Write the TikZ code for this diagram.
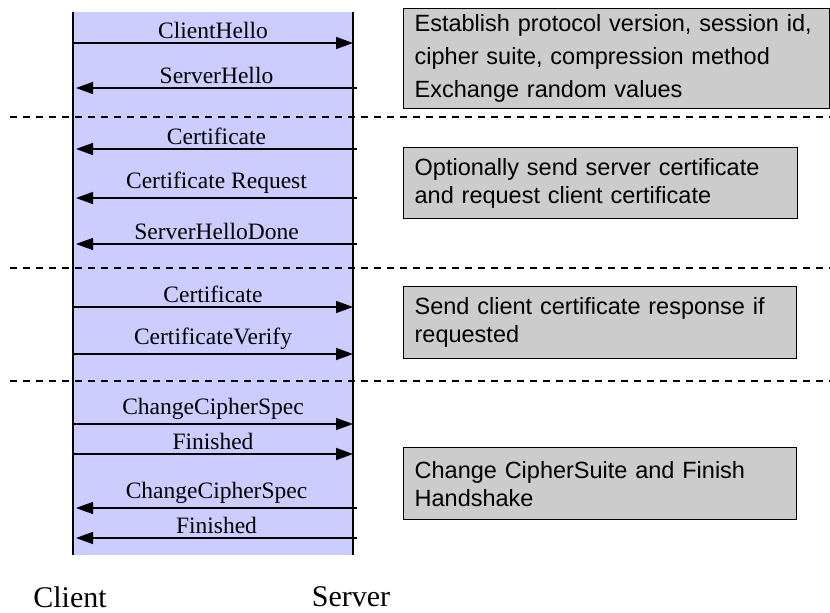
\documentclass[tikz,border=0pt]{standalone}
\usepackage{fontspec}
\setmainfont{Liberation Serif}
\setsansfont{Liberation Sans}
\usetikzlibrary{arrows.meta,positioning}

\definecolor{lifeblue}{HTML}{CCCCFF}
\definecolor{notegray}{HTML}{CCCCCC}

\begin{document}
\begin{tikzpicture}[x=1pt, y=-1pt, >={Triangle[length=17pt,width=12pt]},
    lifeline/.style={line width=2pt},
    msg/.style={->, line width=1.5pt},
    msglabel/.style={above=3pt, inner sep=1pt, font=\fontsize{23.5}{25}\selectfont},
    note/.style={draw, line width=1.3pt, fill=notegray, anchor=north west, align=left,
                 inner xsep=11pt, font=\sffamily\fontsize{23.5}{28}\selectfont},
    sep/.style={dashed, dash pattern=on 7pt off 6pt, line width=1.1pt},
    party/.style={font=\fontsize{30}{32}\selectfont}]

    \useasboundingbox (0,0) rectangle (830,613);

    % lifelines
    \fill[lifeblue] (73,12) rectangle (353,555);
    \coordinate (ctop) at (73,12);
    \coordinate (cbot) at (73,555);
    \coordinate (stop) at (353,12);
    \coordinate (sbot) at (353,555);
    \draw[lifeline] (ctop) -- (cbot);
    \draw[lifeline] (stop) -- (sbot);

    \node[party] (client) at (70,597)  {Client};
    \node[party] (server) at (351,597) {Server};

    % phase separators
    \foreach \y in {117,268,381}
        \draw[sep] (10,\y) -- (830,\y);

    % client -> server
    \foreach \y/\txt in {43/ClientHello, 307/Certificate, 354/CertificateVerify,
                         424/ChangeCipherSpec, 454/Finished} {
        \coordinate (c\y) at (ctop |- 0,\y);
        \coordinate (s\y) at (stop |- 0,\y);
        \draw[msg] (c\y) -- node[msglabel] {\txt} (s\y);
    }

    % server -> client
    \foreach \y/\txt in {88/ServerHello, 149/Certificate, 198/Certificate Request,
                         244/ServerHelloDone, 508/ChangeCipherSpec, 538/Finished} {
        \coordinate (c\y) at (76,\y);
        \coordinate (s\y) at (357,\y);
        \draw[msg] (s\y) -- node[msglabel] {\txt} (c\y);
    }

    % notes
    \node[note, text width=404pt, minimum height=100pt,
          font=\sffamily\fontsize{23.5}{33}\selectfont] (hello) at (403,8)
        {Establish protocol version, session id,\\cipher suite, compression method\\Exchange random values};
    \node[note, text width=372pt, minimum height=71pt] (servercert) at (403,147)
        {Optionally send server certificate\\and request client certificate};
    \node[note, text width=371pt, minimum height=72pt] (clientcert) at (403,286)
        {Send client certificate response if\\requested};
    \node[note, text width=371pt, minimum height=72pt] (finish) at (403,447)
        {Change CipherSuite and Finish\\Handshake};

\end{tikzpicture}
\end{document}
